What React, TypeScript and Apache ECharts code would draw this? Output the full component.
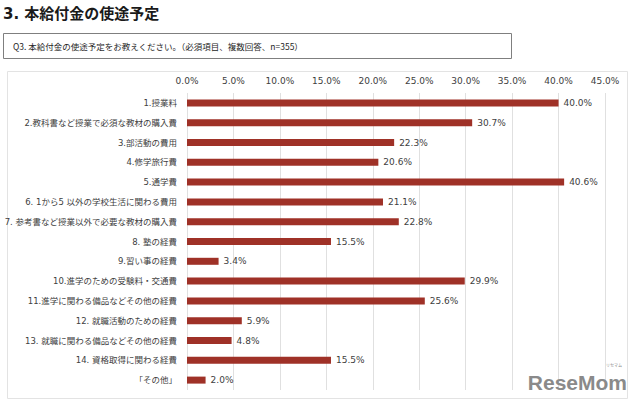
import React, { useEffect, useRef } from "react";
import * as echarts from "echarts";

const categories = [
  "1.授業料",
  "2.教科書など授業で必須な教材の購入費",
  "3.部活動の費用",
  "4.修学旅行費",
  "5.通学費",
  "6. 1から5 以外の学校生活に関わる費用",
  "7. 参考書など授業以外で必要な教材の購入費",
  "8. 塾の経費",
  "9.習い事の経費",
  "10.進学のための受験料・交通費",
  "11.進学に関わる備品などその他の経費",
  "12. 就職活動のための経費",
  "13. 就職に関わる備品などその他の経費",
  "14. 資格取得に関わる経費",
  "「その他」",
];
const values = [40.0, 30.7, 22.3, 20.6, 40.6, 21.1, 22.8, 15.5, 3.4, 29.9, 25.6, 5.9, 4.8, 15.5, 2.0];
const axisMin = 0;
const axisMax = 45;
const axisStep = 5;

const titleText = "3. 本給付金の使途予定";
const questionText = "Q3. 本給付金の使途予定をお教えください。（必須項目、複数回答、n=355）";

const FONT = "'DejaVu Sans', 'Noto Sans CJK JP', sans-serif";

export default function App() {
  const ref = useRef<HTMLDivElement>(null);
  useEffect(() => {
    if (!ref.current) return;
    const chart = echarts.init(ref.current, null, { renderer: "svg" });
    chart.setOption({
      animation: false,
      backgroundColor: "#ffffff",
      textStyle: { fontFamily: FONT },
      graphic: [
        {
          type: "text",
          left: 3,
          top: 6,
          style: {
            text: titleText,
            fontSize: 15,
            fontWeight: "bold",
            fill: "#1a1a1a",
            fontFamily: FONT,
          },
        },
        {
          type: "rect",
          shape: { x: 3.5, y: 33.5, width: 508, height: 25 },
          style: { fill: "#ffffff", stroke: "#7f7f7f", lineWidth: 1 },
        },
        {
          type: "text",
          x: 13,
          y: 46,
          style: {
            text: questionText,
            fontSize: 8.5,
            fill: "#262626",
            fontFamily: "'Noto Sans CJK JP', sans-serif",
            verticalAlign: "middle",
          },
        },
        {
          type: "rect",
          z: -10,
          shape: { x: 7.5, y: 71.5, width: 620, height: 327 },
          style: { fill: "#ffffff", stroke: "#e3e3e3", lineWidth: 1 },
        },
        {
          type: "text",
          x: 627,
          y: 382,
          z: 10,
          style: {
            text: "ReseMom",
            fontSize: 21,
            lineHeight: 16,
            fontWeight: "bold",
            fill: "#8a8a8a",
            fontFamily: "'Liberation Sans Narrow', 'Liberation Sans', sans-serif",
            align: "right",
            verticalAlign: "middle",
          },
        },
        {
          type: "text",
          x: 622,
          y: 367,
          z: 10,
          style: {
            text: "リセマム",
            fontSize: 4,
            lineHeight: 4,
            fill: "#8a8a8a",
            fontFamily: "'Noto Sans CJK JP', sans-serif",
            align: "right",
            verticalAlign: "bottom",
          },
        },
      ],
      grid: { left: 187, right: 35, top: 93, bottom: 14, containLabel: false },
      xAxis: {
        type: "value",
        position: "top",
        min: axisMin,
        max: axisMax,
        interval: axisStep,
        axisLine: { show: false },
        axisTick: { show: false },
        axisLabel: {
          margin: 8,
          fontSize: 9,
          color: "#404040",
          fontFamily: FONT,
          formatter: (v: number) => `${v.toFixed(1)}%`,
        },
        splitLine: { show: true, lineStyle: { color: "#e0e0e0", width: 1 } },
      },
      yAxis: {
        type: "category",
        data: categories,
        inverse: true,
        axisLine: { show: false },
        axisTick: { show: false },
        axisLabel: {
          margin: 10,
          fontSize: 8.5,
          color: "#404040",
          fontFamily: FONT,
        },
      },
      series: [
        {
          type: "bar",
          data: values,
          barWidth: 7,
          itemStyle: { color: "#9f3127" },
          label: {
            show: true,
            position: "right",
            distance: 5,
            fontSize: 9,
            color: "#404040",
            fontFamily: FONT,
            formatter: (p: any) => `${Number(p.value).toFixed(1)}%`,
          },
        },
      ],
    });
    return () => chart.dispose();
  }, []);
  return (
    <div
      ref={ref}
      style={{ position: "fixed", left: 0, top: 0, width: 640, height: 404 }}
    />
  );
}
